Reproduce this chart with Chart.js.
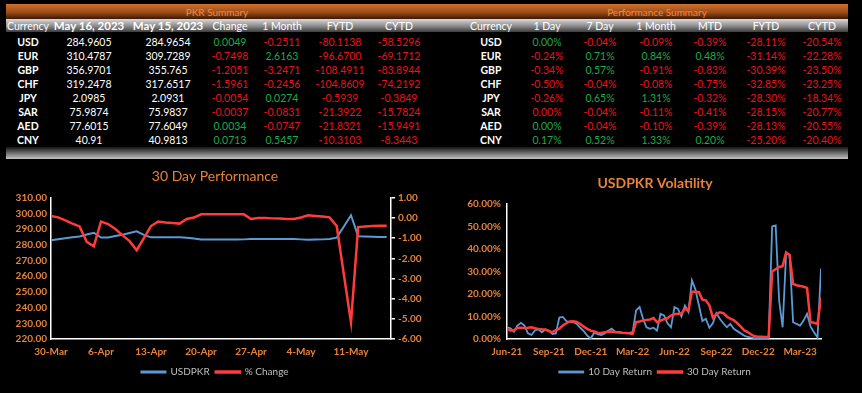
<!DOCTYPE html>
<html>
<head>
<meta charset="utf-8">
<script src="https://cdn.jsdelivr.net/npm/chart.js"></script>
<style>
html, body { margin: 0; padding: 0; background: #000; }
body { width: 862px; height: 393px; position: relative; overflow: hidden; font-family: Lato, "Liberation Sans", sans-serif; }
.bar { position: absolute; left: 6px; width: 842px; }
#topbar { top: 4px; height: 15px; background: linear-gradient(#d0702c, #9e4c18 55%, #3a1806); }
#headbar { top: 19px; height: 13px; background: linear-gradient(#dadada, #8a8a8a 55%, #3c3c3c); }
#footbar { top: 147px; height: 12px; background: linear-gradient(#141414, #c4c4c4); }
.cell { position: absolute; width: 100px; text-align: center; line-height: 14px; font-size: 10.5px; color: #fff; white-space: nowrap; }
.cap { color: #f08c42; font-size: 10px; }
.bold { font-weight: bold; }
.big { font-weight: bold; font-size: 11.5px; }
canvas { position: absolute; top: 160px; }
#perf { left: 0; }
#vol { left: 430px; }
</style>
</head>
<body>
<div class="bar" id="topbar"></div>
<div class="bar" id="headbar"></div>
<div class="bar" id="footbar"></div>
<canvas id="perf" width="430" height="233"></canvas>
<canvas id="vol" width="432" height="233"></canvas>
<script>
// ---- PKR Summary ----
var currencies = ['USD', 'EUR', 'GBP', 'CHF', 'JPY', 'SAR', 'AED', 'CNY'];
var pkrHeaders = ['Currency', 'May 16, 2023', 'May 15, 2023', 'Change', '1 Month', 'FYTD', 'CYTD'];
var rateToday = ['284.9605', '310.4787', '356.9701', '319.2478', '2.0985', '75.9874', '77.6015', '40.91'];
var ratePrev = ['284.9654', '309.7289', '355.765', '317.6517', '2.0931', '75.9837', '77.6049', '40.9813'];
var rateChange = ['0.0049', '-0.7498', '-1.2051', '-1.5961', '-0.0054', '-0.0037', '0.0034', '0.0713'];
var rate1Month = ['-0.2511', '2.6163', '-3.2471', '-0.2456', '0.0274', '-0.0831', '-0.0747', '0.5457'];
var rateFytd = ['-80.1138', '-96.6700', '-108.4911', '-104.8609', '-0.5939', '-21.3922', '-21.8321', '-10.3103'];
var rateCytd = ['-58.5296', '-69.1712', '-83.8944', '-74.2192', '-0.3849', '-15.7824', '-15.9491', '-8.3443'];

// ---- Performance Summary (%) ----
var perfHeaders = ['Currency', '1 Day', '7 Day', '1 Month', 'MTD', 'FYTD', 'CYTD'];
var perf1Day = [0.001, -0.24, -0.34, -0.50, -0.26, -0.001, 0.001, 0.17];
var perf7Day = [-0.04, 0.71, 0.57, -0.04, 0.65, -0.04, -0.04, 0.52];
var perf1Month = [-0.09, 0.84, -0.91, -0.08, 1.31, -0.11, -0.10, 1.33];
var perfMtd = [-0.39, 0.48, -0.83, -0.75, -0.32, -0.41, -0.39, 0.20];
var perfFytd = [-28.11, -31.14, -30.39, -32.85, -28.30, -28.15, -28.13, -25.20];
var perfCytd = [-20.54, -22.28, -23.50, -23.25, -18.34, -20.77, -20.55, -20.40];

// ---- 30 Day Performance ----
var dates = ['30-Mar', '31-Mar',
  '1-Apr', '2-Apr', '3-Apr', '4-Apr', '5-Apr', '6-Apr', '7-Apr', '8-Apr', '9-Apr', '10-Apr',
  '11-Apr', '12-Apr', '13-Apr', '14-Apr', '15-Apr', '16-Apr', '17-Apr', '18-Apr', '19-Apr', '20-Apr',
  '21-Apr', '22-Apr', '23-Apr', '24-Apr', '25-Apr', '26-Apr', '27-Apr', '28-Apr', '29-Apr', '30-Apr',
  '1-May', '2-May', '3-May', '4-May', '5-May', '6-May', '7-May', '8-May', '9-May', '10-May',
  '11-May', '12-May', '13-May', '14-May', '15-May', '16-May'];
var usdpkr = [283.0, 283.6, 284.2, 284.8, 285.4, 286.6, 287.7, 284.7, 284.7, 285.6,
  286.5, 287.5, 288.6, 286.4, 284.8, 284.8, 284.8, 284.8, 284.8, 284.5,
  284.0, 283.4, 283.4, 283.4, 283.4, 283.4, 283.4, 283.5, 283.8, 283.8,
  283.8, 283.8, 283.8, 283.8, 283.8, 283.5, 283.2, 283.4, 283.5, 283.8,
  284.6, 291.7, 298.9, 285.5, 285.3, 285.1, 284.97, 284.96];
var pctChange = [0.10, 0.03, -0.12, -0.28, -0.42, -1.18, -1.40, -0.18, -0.30, -0.55,
  -0.85, -1.15, -1.60, -1.00, -0.40, -0.18, -0.22, -0.25, -0.28, -0.05,
  0.02, 0.18, 0.18, 0.18, 0.18, 0.18, 0.18, 0.18, -0.05, 0.00,
  0.00, -0.02, -0.03, -0.05, -0.05, 0.02, 0.13, 0.10, 0.07, 0.03,
  -0.40, -2.80, -5.18, -0.45, -0.42, -0.40, -0.38, -0.38];

// ---- USDPKR Volatility (4 readings per month from Jun-21) ----
var volMonths = ['Jun-21', 'Jul-21', 'Aug-21', 'Sep-21', 'Oct-21', 'Nov-21', 'Dec-21', 'Jan-22',
  'Feb-22', 'Mar-22', 'Apr-22', 'May-22', 'Jun-22', 'Jul-22', 'Aug-22', 'Sep-22', 'Oct-22',
  'Nov-22', 'Dec-22', 'Jan-23', 'Feb-23', 'Mar-23', 'Apr-23'];
var ret10 = [5.2, 4.8, 3.2, 6.0, 7.2, 6.0, 2.5, 1.8, 3.8, 4.3,
  3.0, 4.2, 3.8, 2.2, 2.5, 9.5, 9.8, 8.0, 7.5, 7.6,
  6.7, 5.0, 3.5, 1.5, 0.2, 2.8, 2.2, 1.8, 2.5, 3.7,
  4.6, 3.3, 3.0, 2.8, 2.7, 2.7, 3.0, 12.7, 14.2, 9.0,
  5.2, 4.5, 5.0, 3.7, 11.2, 10.5, 7.0, 5.2, 14.2, 13.4,
  10.0, 14.9, 12.0, 26.1, 22.0, 15.0, 8.0, 9.0, 5.0, 7.0,
  11.5, 9.0, 7.0, 5.2, 6.7, 4.5, 3.5, 2.5, 1.5, 0.9,
  0.6, 0.3, 0.3, 0.3, 0.3, 0.5, 50.0, 50.5, 17.0, 5.2,
  38.0, 37.5, 7.5, 6.7, 6.0, 8.2, 11.2, 5.5, 3.0, 0.7, 31.3];
var ret30 = [4.5, 3.8, 3.8, 5.0, 5.0, 4.9, 5.0, 5.2, 4.8, 4.5,
  4.3, 4.2, 3.5, 3.0, 4.0, 4.6, 6.0, 7.0, 7.8, 7.9,
  7.6, 6.7, 5.5, 4.5, 3.7, 3.3, 2.8, 2.7, 3.0, 3.2,
  3.3, 3.0, 3.0, 2.8, 2.7, 2.5, 2.2, 7.5, 7.8, 8.2,
  8.5, 8.7, 9.3, 7.5, 8.2, 8.8, 9.2, 10.4, 11.0, 11.2,
  11.2, 13.4, 12.7, 21.0, 21.0, 20.8, 17.5, 17.2, 15.0, 9.5,
  11.0, 11.9, 11.5, 10.0, 9.0, 8.4, 7.0, 5.5, 3.8, 3.1,
  2.0, 1.2, 1.0, 1.0, 0.9, 0.9, 30.0, 31.0, 32.0, 32.4,
  38.5, 37.3, 24.5, 23.9, 23.6, 23.2, 22.7, 7.5, 7.2, 6.7, 18.7];

var GREEN = '#20a84a', RED = '#e8141c', ORANGE = '#e8823a';

function addText(txt, cx, cy, cls, color) {
  var d = document.createElement('div');
  d.className = 'cell ' + (cls || '');
  d.textContent = txt;
  d.style.left = (cx - 50) + 'px';
  d.style.top = (cy - 7) + 'px';
  if (color) d.style.color = color;
  document.body.appendChild(d);
}

function pct(v) {
  var s = v.toFixed(2);
  if (s === '-0.00') s = '0.00';
  return s + '%';
}

// left table
var pkrCols = [28, 89, 168, 230, 282, 340, 399];
addText('PKR Summary', 217, 11.5, 'cap');
pkrHeaders.forEach(function(h, c) {
  addText(h, pkrCols[c], 26, (c === 1 || c === 2) ? 'big' : '');
});
var pkrSigned = [rateChange, rate1Month, rateFytd, rateCytd];
currencies.forEach(function(cur, r) {
  var cy = 41.7 + r * 14;
  addText(cur, pkrCols[0], cy, 'bold');
  addText(rateToday[r], pkrCols[1], cy);
  addText(ratePrev[r], pkrCols[2], cy);
  pkrSigned.forEach(function(arr, k) {
    var s = arr[r];
    addText(s, pkrCols[3 + k], cy, '', s.charAt(0) === '-' ? RED : GREEN);
  });
});

// right table
var perfCols = [491, 547, 600, 656, 710, 766, 822];
addText('Performance Summary', 657, 11.5, 'cap');
perfHeaders.forEach(function(h, c) {
  addText(h, perfCols[c], 26);
});
var perfSigned = [perf1Day, perf7Day, perf1Month, perfMtd, perfFytd, perfCytd];
currencies.forEach(function(cur, r) {
  var cy = 41.7 + r * 14;
  addText(cur, perfCols[0], cy, 'bold');
  perfSigned.forEach(function(arr, k) {
    var v = arr[r];
    addText(pct(v), perfCols[1 + k], cy, '', v < 0 ? RED : GREEN);
  });
});

Chart.defaults.font.family = 'Lato, "Liberation Sans", sans-serif';

function xy(arr) {
  return arr.map(function(v, i) { return { x: i, y: v }; });
}

var legendLabels = {
  color: '#bfbfbf',
  font: { size: 10 },
  boxWidth: 24,
  boxHeight: 1,
  padding: 6,
  sort: function(a, b) { return a.datasetIndex - b.datasetIndex; }
};
var tickFont = { size: 10, weight: 'bold' };

new Chart(document.getElementById('perf').getContext('2d'), {
  type: 'line',
  data: {
    datasets: [{
      label: 'USDPKR',
      data: xy(usdpkr),
      yAxisID: 'y',
      borderColor: '#5b9bd5',
      backgroundColor: '#5b9bd5',
      borderWidth: 2,
      pointRadius: 0,
      order: 1
    }, {
      label: '% Change',
      data: xy(pctChange),
      yAxisID: 'y1',
      borderColor: '#ff3b3b',
      backgroundColor: '#ff3b3b',
      borderWidth: 2.5,
      pointRadius: 0,
      order: 0
    }]
  },
  options: {
    responsive: false,
    animation: false,
    layout: { padding: { left: 0, right: 0, top: 0, bottom: 6 } },
    plugins: {
      title: {
        display: true,
        text: '30 Day Performance',
        color: ORANGE,
        font: { size: 14, weight: 'normal' },
        padding: { top: 8, bottom: 13 }
      },
      legend: { position: 'bottom', labels: legendLabels },
      tooltip: { enabled: false }
    },
    scales: {
      x: {
        type: 'linear',
        min: 0,
        max: 47.6,
        ticks: {
          stepSize: 7,
          autoSkip: false,
          maxRotation: 0,
          color: ORANGE,
          font: tickFont,
          padding: 7,
          callback: function(v) {
            return (Number.isInteger(v) && v % 7 === 0) ? dates[v] : '';
          }
        },
        grid: { display: false, drawTicks: false },
        border: { color: '#fff', width: 1.5 },
        afterFit: function(s) { s.height = 22; }
      },
      y: {
        position: 'left',
        min: 220,
        max: 310,
        ticks: {
          stepSize: 10,
          color: ORANGE,
          font: tickFont,
          padding: 4,
          callback: function(v) { return v.toFixed(2); }
        },
        grid: { display: false, drawTicks: false },
        border: { color: '#fff', width: 1.5 },
        afterFit: function(s) { s.width = 51; }
      },
      y1: {
        position: 'right',
        min: -6,
        max: 1,
        ticks: {
          stepSize: 1,
          color: ORANGE,
          font: tickFont,
          padding: 3,
          callback: function(v) { return v.toFixed(2); }
        },
        grid: { display: true, drawOnChartArea: false, color: '#fff', tickLength: 4, lineWidth: 1.5 },
        border: { color: '#fff', width: 1.5 },
        afterFit: function(s) { s.width = 39; }
      }
    }
  }
});

new Chart(document.getElementById('vol').getContext('2d'), {
  type: 'line',
  data: {
    datasets: [{
      label: '10 Day Return',
      data: xy(ret10),
      borderColor: '#5b9bd5',
      backgroundColor: '#5b9bd5',
      borderWidth: 1.8,
      pointRadius: 0,
      order: 1
    }, {
      label: '30 Day Return',
      data: xy(ret30),
      borderColor: '#ff3b3b',
      backgroundColor: '#ff3b3b',
      borderWidth: 2.5,
      pointRadius: 0,
      order: 0
    }]
  },
  options: {
    responsive: false,
    animation: false,
    layout: { padding: { left: 18, right: 0, top: 0, bottom: 6 } },
    plugins: {
      title: {
        display: true,
        text: 'USDPKR Volatility',
        color: ORANGE,
        font: { size: 14, weight: 'bold' },
        padding: { top: 14.6, bottom: 12.6 }
      },
      legend: { position: 'bottom', labels: legendLabels },
      tooltip: { enabled: false }
    },
    scales: {
      x: {
        type: 'linear',
        min: 0,
        max: 90,
        ticks: {
          stepSize: 12,
          autoSkip: false,
          maxRotation: 0,
          color: ORANGE,
          font: tickFont,
          padding: 7,
          callback: function(v) {
            return (Number.isInteger(v) && v % 12 === 0) ? volMonths[v / 4] : '';
          }
        },
        grid: { display: false, drawTicks: false },
        border: { color: '#fff', width: 1.5 },
        afterFit: function(s) { s.height = 22; }
      },
      y: {
        position: 'left',
        min: 0,
        max: 60,
        ticks: {
          stepSize: 10,
          color: ORANGE,
          font: tickFont,
          padding: 6,
          callback: function(v) { return v.toFixed(2) + '%'; }
        },
        grid: { display: false, drawTicks: false },
        border: { color: '#fff', width: 1.5 },
        afterFit: function(s) { s.width = 59; }
      },
      spacer: {
        position: 'right',
        ticks: { display: false },
        grid: { display: false, drawTicks: false },
        border: { display: false },
        afterFit: function(s) { s.width = 41; }
      }
    }
  }
});
</script>
</body>
</html>
